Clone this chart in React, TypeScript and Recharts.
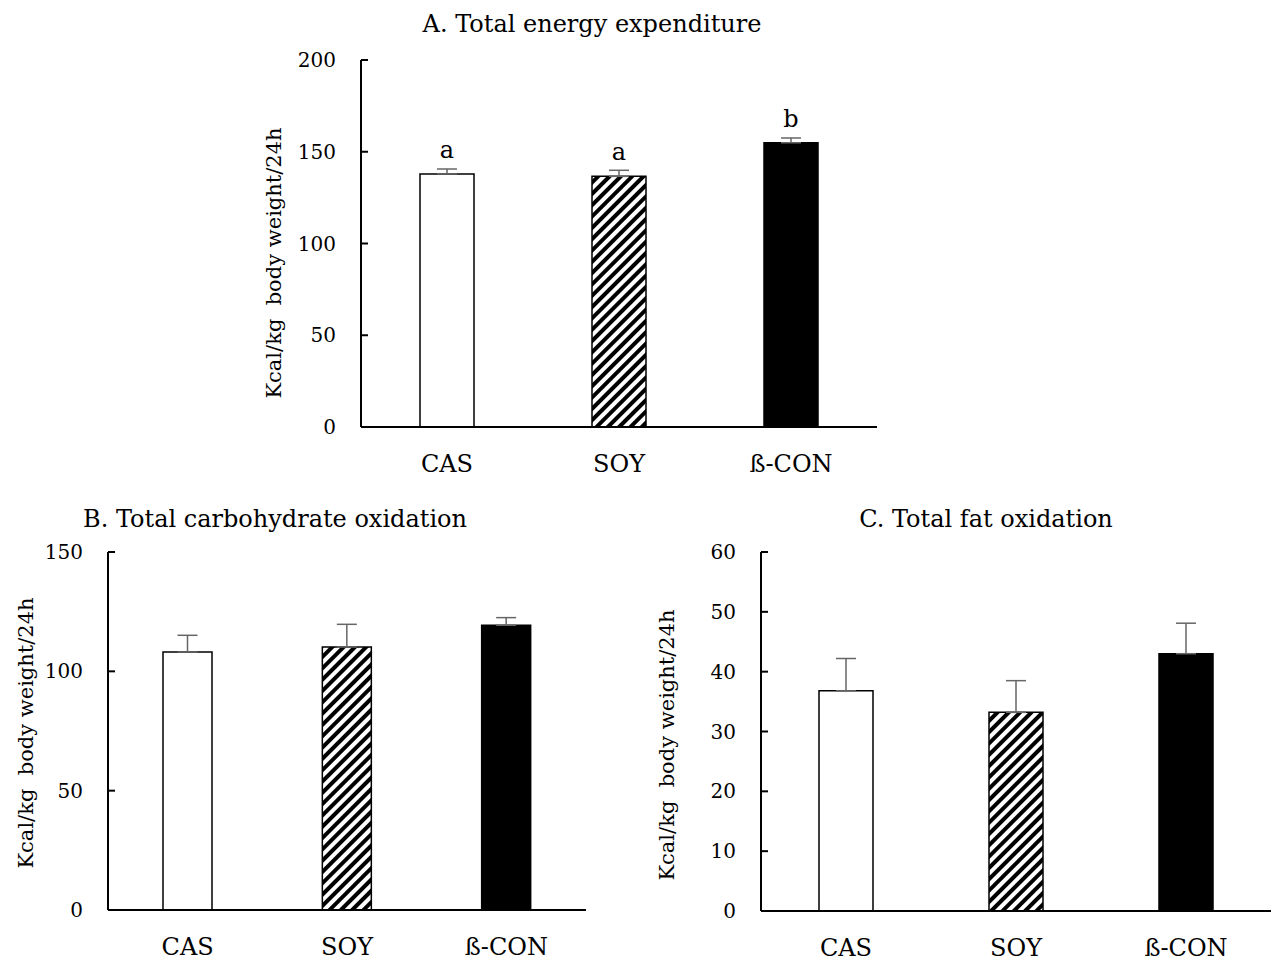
import React from "react";
import { BarChart, Bar, XAxis, YAxis, Cell, ErrorBar, LabelList } from "recharts";

const groups = ["CAS", "SOY", "ß-CON"];

const energyMean = [137.9, 136.6, 154.9];
const energySem = [2.7, 3.3, 2.6];
const energyLetters = ["a", "a", "b"];

const carbMean = [108.1, 110.2, 119.3];
const carbSem = [7.0, 9.5, 3.2];

const fatMean = [36.8, 33.2, 43.0];
const fatSem = [5.4, 5.3, 5.1];

const energyTicks = [0, 50, 100, 150, 200];
const carbTicks = [0, 50, 100, 150];
const fatTicks = [0, 10, 20, 30, 40, 50, 60];

const yTitle = "Kcal/kg\u00a0\u00a0body weight/24h";
const FONT = "'DejaVu Serif', serif";

type PanelProps = {
  id: string;
  means: number[];
  sems: number[];
  letters?: string[];
  ticks: number[];
  left: number;
  top: number;
  width: number;
  height: number;
  margin: { top: number; right: number; bottom: number; left: number };
  yWidth: number;
  barSize: number;
};

function Panel(p: PanelProps) {
  const rows = groups.map((g, i) => ({
    name: g,
    value: p.means[i],
    err: [0, p.sems[i]],
    sig: p.letters ? p.letters[i] : "",
  }));
  const fills = ["#ffffff", `url(#${p.id})`, "#000000"];
  const axisStyle = { stroke: "#000", strokeWidth: 2 };

  return (
    <div style={{ position: "absolute", left: p.left, top: p.top }}>
      <BarChart width={p.width} height={p.height} data={rows} margin={p.margin} barCategoryGap={0}>
        <defs>
          <pattern id={p.id} width={8} height={8} patternUnits="userSpaceOnUse" patternTransform="rotate(45)">
            <rect width={8} height={8} fill="#fff" />
            <rect width={4} height={8} fill="#000" />
          </pattern>
        </defs>
        <XAxis
          dataKey="name"
          interval={0}
          height={30}
          tickLine={false}
          tickMargin={22}
          axisLine={axisStyle}
          tick={{ fill: "#000", fontSize: 24, fontFamily: FONT }}
        />
        <YAxis
          domain={[0, p.ticks[p.ticks.length - 1]]}
          ticks={p.ticks}
          width={p.yWidth}
          tickSize={-7}
          tickMargin={32}
          tickLine={axisStyle}
          axisLine={axisStyle}
          tick={{ fill: "#000", fontSize: 20, fontFamily: FONT }}
        />
        <Bar dataKey="value" barSize={p.barSize} stroke="#000" strokeWidth={1.5} isAnimationActive={false}>
          {rows.map((r, i) => (
            <Cell key={r.name} fill={fills[i]} />
          ))}
          <ErrorBar dataKey="err" direction="y" width={10} stroke="#666" strokeWidth={1.5} />
          {p.letters && (
            <LabelList dataKey="sig" position="top" offset={16} fill="#000" fontSize={24} fontFamily={FONT} />
          )}
        </Bar>
      </BarChart>
    </div>
  );
}

export default function App() {
  return (
    <div style={{ position: "absolute", left: 0, top: 0, width: 1274, height: 961, background: "#fff" }}>
      <Panel
        id="hatchA"
        means={energyMean}
        sems={energySem}
        letters={energyLetters}
        ticks={energyTicks}
        left={240}
        top={0}
        width={660}
        height={490}
        margin={{ top: 60, right: 23, bottom: 33, left: 0 }}
        yWidth={121}
        barSize={54}
      />
      <Panel
        id="hatchB"
        means={carbMean}
        sems={carbSem}
        ticks={carbTicks}
        left={0}
        top={490}
        width={620}
        height={471}
        margin={{ top: 62, right: 34, bottom: 21, left: 0 }}
        yWidth={108}
        barSize={49}
      />
      <Panel
        id="hatchC"
        means={fatMean}
        sems={fatSem}
        ticks={fatTicks}
        left={640}
        top={490}
        width={634}
        height={471}
        margin={{ top: 62, right: 3, bottom: 20, left: 0 }}
        yWidth={121}
        barSize={54}
      />
      <svg
        width={1274}
        height={961}
        style={{ position: "absolute", left: 0, top: 0, pointerEvents: "none" }}
        fontFamily={FONT}
        fill="#000"
      >
        <text x={592} y={32} fontSize={24} textAnchor="middle">A. Total energy expenditure</text>
        <text x={275} y={527} fontSize={24} textAnchor="middle">B. Total carbohydrate oxidation</text>
        <text x={986} y={527} fontSize={24} textAnchor="middle">C. Total fat oxidation</text>
        <text x={274} y={263} dy="0.35em" fontSize={21} textAnchor="middle" transform="rotate(-90 274 263)">{yTitle}</text>
        <text x={26} y={733} dy="0.35em" fontSize={21} textAnchor="middle" transform="rotate(-90 26 733)">{yTitle}</text>
        <text x={667} y={745} dy="0.35em" fontSize={21} textAnchor="middle" transform="rotate(-90 667 745)">{yTitle}</text>
      </svg>
    </div>
  );
}
